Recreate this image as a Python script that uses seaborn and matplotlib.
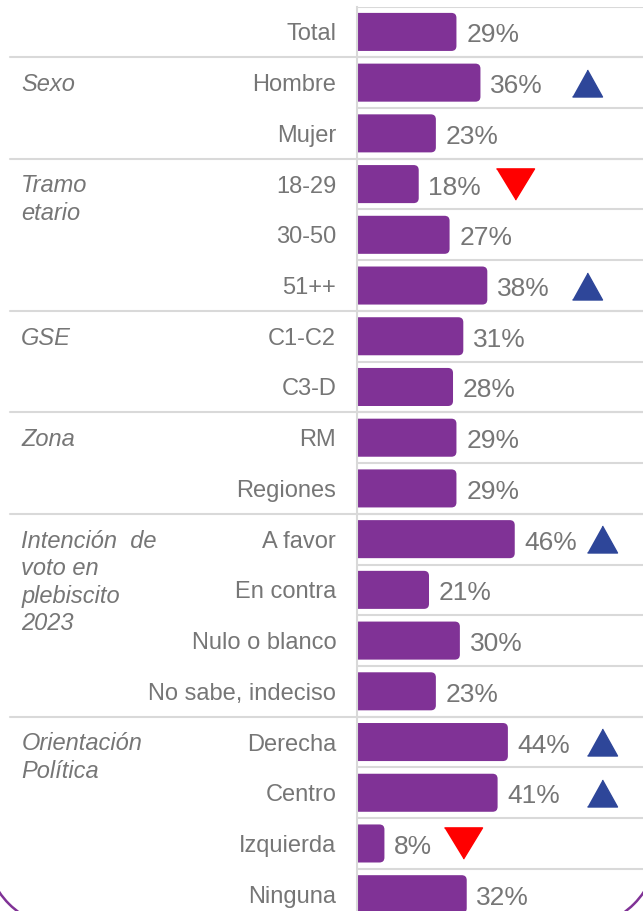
import numpy as np
import pandas as pd
import seaborn as sns
import matplotlib.pyplot as plt
from matplotlib.patches import FancyBboxPatch, Arc
from matplotlib.lines import Line2D
from matplotlib import transforms

categories = ["Total", "Hombre", "Mujer", "18-29", "30-50", "51++", "C1-C2", "C3-D",
              "RM", "Regiones", "A favor", "En contra", "Nulo o blanco",
              "No sabe, indeciso", "Derecha", "Centro", "Izquierda", "Ninguna"]
values = [29, 36, 23, 18, 27, 38, 31, 28, 29, 29, 46, 21, 30, 23, 44, 41, 8, 32]
flags = ["", "up", "", "down", "", "up", "", "", "", "", "up", "", "", "", "up", "up", "down", ""]
group_names = ["Sexo", "Tramo\netario", "GSE", "Zona",
               "Intención  de\nvoto en\nplebiscito\n2023", "Orientación\nPolítica"]
group_starts = [1, 3, 6, 8, 10, 14]

purple = "#803296"
gray_txt = "#767676"
line_col = "#d9d9d9"

sns.set_style("white")
plt.rcParams["font.family"] = ["Liberation Sans", "DejaVu Sans"]

df = pd.DataFrame({"cat": categories, "val": values})

fig = plt.figure(figsize=(6.43, 9.11), dpi=100)
ax = fig.add_axes([0.5552, -0.0094, 0.4448, 1.0022])

sns.barplot(data=df, x="val", y="cat", order=categories, orient="h", color=purple,
            saturation=1, width=0.75, ax=ax)
ax.set_xlim(0, 83.4)
ax.set_ylim(len(categories) - 0.5, -0.5)

lbls = ax.bar_label(ax.containers[0], labels=[f"{v}%" for v in values], padding=7,
                    fontsize=19, color=gray_txt)
for t in lbls:
    t.xyann = (7, -2.5)

# rounded bar ends
r = 1.46
for p in ax.patches:
    x, y = p.get_x(), p.get_y()
    w, h = p.get_width(), p.get_height()
    p.set_visible(False)
    ax.add_patch(FancyBboxPatch((x - r, y), w + r, h,
                                boxstyle=f"round,pad=0,rounding_size={r}",
                                mutation_aspect=0.0677, fc=purple, ec="none"))

# row separators inside bar area
for i in range(len(categories) + 1):
    ax.axhline(i - 0.5, color=line_col, lw=1.5, zorder=0)

# group separators spanning the whole width
blend = transforms.blended_transform_factory(fig.transFigure, ax.transData)
for s in group_starts:
    fig.add_artist(Line2D([0.016, 1.0], [s - 0.5, s - 0.5], transform=blend,
                          color=line_col, lw=1.5, clip_on=False))

for name, s in zip(group_names, group_starts):
    ax.text(0.033, s - 0.19, name, transform=blend, ha="left", va="top",
            fontsize=17, style="italic", color=gray_txt, linespacing=1.25)

# significance markers
up_m = [(-1, -0.9), (1, -0.9), (0, 0.9)]
down_m = [(-1, 0.82), (1, 0.82), (0, -0.82)]
for i, (v, f) in enumerate(zip(values, flags)):
    if f == "up":
        ax.plot(67 if v < 40 else 71.5, i, marker=up_m, ms=21.6, color="#2e4699",
                ls="none", clip_on=False)
    elif f == "down":
        ax.plot(v * 1.5 + 19, i, marker=down_m, ms=27.4, color="#ff0000", ls="none",
                clip_on=False)

ax.set_xlabel("")
ax.set_ylabel("")
ax.set_xticks([])
ax.tick_params(axis="y", length=0, pad=15, labelsize=17, labelcolor=gray_txt)
for side in ["top", "right", "bottom"]:
    ax.spines[side].set_visible(False)
ax.spines["left"].set_color(line_col)
ax.spines["left"].set_linewidth(1.5)

# rounded frame corners peeking in at the bottom
for cx, t1, t2 in [(0.656, 180, 270), (5.774, 270, 360)]:
    fig.add_artist(Arc((cx, 0.636), 1.6, 1.6, theta1=t1, theta2=t2,
                       transform=fig.dpi_scale_trans, color=purple, lw=1.8))

fig.savefig("out.png", dpi=100)
